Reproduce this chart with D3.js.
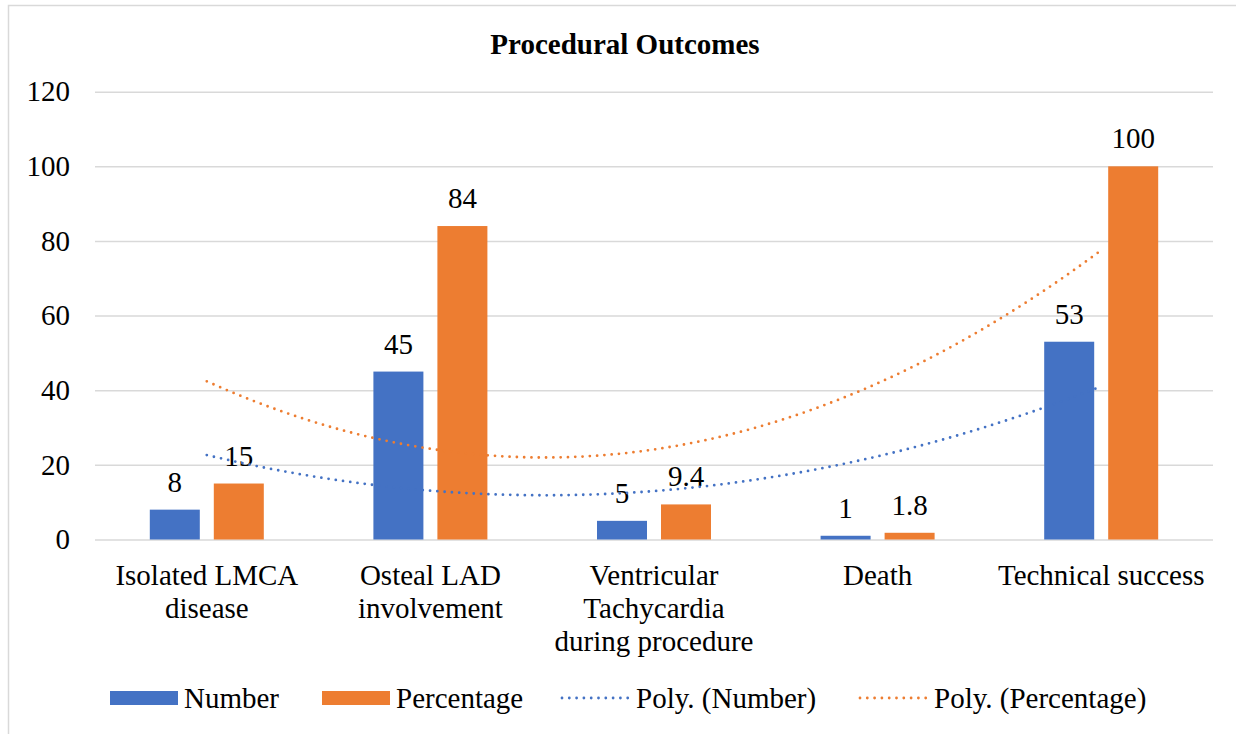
<!DOCTYPE html>
<html>
<head>
<meta charset="utf-8">
<script src="https://cdn.jsdelivr.net/npm/d3@7"></script>
<style>
  html, body { margin: 0; padding: 0; background: #fff; }
  svg, svg text { font-family: "Liberation Serif", "Times New Roman", Times, "DejaVu Serif", serif; }
</style>
</head>
<body>
<svg id="chart" width="1236" height="734"></svg>
<script>
// ---- data ----
const title = "Procedural Outcomes";
const categories = [
  "Isolated LMCA\ndisease",
  "Osteal LAD\ninvolvement",
  "Ventricular\nTachycardia\nduring procedure",
  "Death",
  "Technical success"
];
const seriesNames = ["Number", "Percentage"];
const numberValues = [8, 45, 5, 1, 53];
const percentageValues = [15, 84, 9.4, 1.8, 100];
const yTicks = [0, 20, 40, 60, 80, 100, 120];
const trendNames = ["Poly. (Number)", "Poly. (Percentage)"];

const colors = ["#4472C4", "#ED7D31"];
const series = [numberValues, percentageValues];

// ---- layout ----
const FF = "'Liberation Serif', 'Times New Roman', Times, 'DejaVu Serif', serif";
const svg = d3.select("#chart").attr("font-family", FF);
const W = 1236, H = 734;
const plot = { left: 95, right: 1213, top: 91.7, bottom: 539.5 };
const FS = 29;

// chart border
svg.append("rect")
  .attr("x", 8.5).attr("y", 5.5)
  .attr("width", W + 20).attr("height", H + 20)
  .attr("fill", "#fff").attr("stroke", "#d9d9d9").attr("stroke-width", 1.5);

const x0 = d3.scaleBand().domain(d3.range(categories.length))
  .range([plot.left, plot.right]).paddingInner(0).paddingOuter(0);
const bw = 50, gap = 14;
const x1 = d3.scaleOrdinal().domain([0, 1]).range([-(gap / 2 + bw), gap / 2]);
const y = d3.scaleLinear().domain([0, 120]).range([plot.bottom, plot.top]);

// gridlines
const yAxis = d3.axisLeft(y).tickValues(yTicks).tickSize(-(plot.right - plot.left)).tickPadding(25);
const gy = svg.append("g").attr("transform", `translate(${plot.left},0)`).call(yAxis);
gy.attr("font-family", FF).attr("font-size", FS);
gy.select(".domain").remove();
gy.selectAll(".tick line").attr("stroke", "#d9d9d9").attr("stroke-width", 1.5);
gy.selectAll(".tick text")
  .attr("font-family", FF)
  .attr("font-size", FS).attr("fill", "#000");

// title
svg.append("text").attr("x", 625).attr("y", 54)
  .attr("text-anchor", "middle").attr("font-weight", "bold")
  .attr("font-family", FF)
  .attr("font-size", 29).text(title);

// bars
series.forEach((vals, si) => {
  const g = svg.append("g");
  g.selectAll("rect").data(vals).enter().append("rect")
    .attr("x", (d, i) => x0(i) + x0.bandwidth() / 2 + x1(si))
    .attr("y", d => y(d))
    .attr("width", bw)
    .attr("height", d => y(0) - y(d))
    .attr("fill", colors[si]);
  g.selectAll("text").data(vals).enter().append("text")
    .attr("x", (d, i) => x0(i) + x0.bandwidth() / 2 + x1(si) + bw / 2)
    .attr("y", d => y(d) - 18)
    .attr("text-anchor", "middle")
    .attr("font-family", FF)
    .attr("font-size", FS)
    .text(d => d);
});

// polynomial (order 2) least-squares trendlines computed from the data
function polyFit2(vals) {
  const n = vals.length;
  const xs = d3.range(1, n + 1);
  const xm = d3.mean(xs);
  const p1 = xs.map(v => v - xm);
  const v2 = d3.mean(p1.map(v => v * v));
  const p2 = p1.map(v => v * v - v2);
  const a0 = d3.mean(vals);
  const a1 = d3.sum(vals.map((v, i) => v * p1[i])) / d3.sum(p1.map(v => v * v));
  const a2 = d3.sum(vals.map((v, i) => v * p2[i])) / d3.sum(p2.map(v => v * v));
  return t => a0 + a1 * (t - xm) + a2 * ((t - xm) * (t - xm) - v2);
}
const xc = t => x0(0) + x0.bandwidth() * (t - 0.5);
series.forEach((vals, si) => {
  const f = polyFit2(vals);
  const pts = d3.range(1, categories.length + 0.0001, 0.02).map(t => [xc(t), y(f(t))]);
  svg.append("path")
    .attr("d", d3.line()(pts))
    .attr("fill", "none")
    .attr("stroke", colors[si])
    .attr("stroke-width", 2.8)
    .attr("stroke-linecap", "round")
    .attr("stroke-dasharray", "0 7.3");
});

// category labels
categories.forEach((c, i) => {
  const t = svg.append("text")
    .attr("x", x0(i) + x0.bandwidth() / 2)
    .attr("y", 585)
    .attr("text-anchor", "middle")
    .attr("font-family", FF)
    .attr("font-size", FS);
  c.split("\n").forEach((line, li) => {
    t.append("tspan").attr("x", x0(i) + x0.bandwidth() / 2)
      .attr("dy", li === 0 ? 0 : 33).text(line);
  });
});

// legend
const legY = 698;
const legendItems = [
  { type: "rect", color: colors[0], label: seriesNames[0], x: 110 },
  { type: "rect", color: colors[1], label: seriesNames[1], x: 322 },
  { type: "line", color: colors[0], label: trendNames[0], x: 562 },
  { type: "line", color: colors[1], label: trendNames[1], x: 860 }
];
legendItems.forEach(it => {
  if (it.type === "rect") {
    svg.append("rect").attr("x", it.x).attr("y", legY - 7)
      .attr("width", 68).attr("height", 14).attr("fill", it.color);
  } else {
    svg.append("line").attr("x1", it.x).attr("x2", it.x + 66)
      .attr("y1", legY).attr("y2", legY)
      .attr("stroke", it.color).attr("stroke-width", 2.8)
      .attr("stroke-linecap", "round").attr("stroke-dasharray", "0 7.3");
  }
  svg.append("text").attr("x", it.x + 74).attr("y", legY + 10)
    .attr("font-family", FF)
    .attr("font-size", FS).text(it.label);
});
</script>
</body>
</html>
